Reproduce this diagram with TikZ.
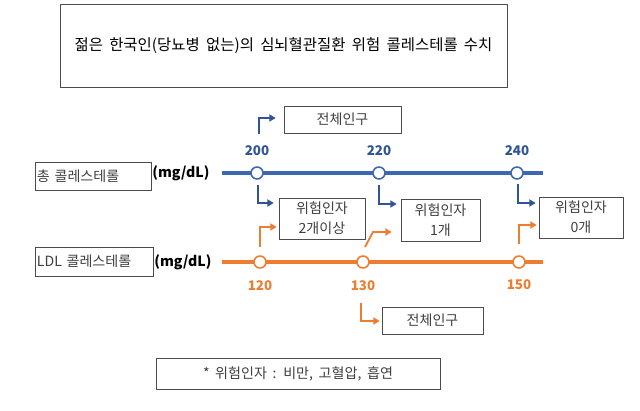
\documentclass[tikz,border=0pt]{standalone}
\usepackage{fontspec}
\setmainfont[WordSpace=1.8]{Noto Sans CJK KR}
\usetikzlibrary{arrows.meta, calc}
\definecolor{lineblue}{RGB}{59,104,176}
\definecolor{darkblue}{RGB}{47,85,151}
\definecolor{lineorange}{RGB}{237,125,49}
\definecolor{boxtext}{RGB}{64,64,64}
\tikzset{
x=0.025cm, y=-0.025cm, % one unit is one pixel of the reference, y runs downwards
box/.style={draw=black!70, fill=white, inner sep=0pt, text=boxtext, align=center,
font=\fontsize{10}{14}\selectfont}, % every text box
scale line/.style={line width=2.4pt}, % the two value scales
dot/.style={circle, fill=white, line width=1.1pt, minimum size=0.3cm, inner sep=0pt}, % marks on a scale
value/.style={font=\bfseries\fontsize{9.5}{11}\selectfont}, % numbers at the marks
unit/.style={font=\bfseries\fontsize{10}{12}\selectfont}, % (mg/dL)
bend arrow/.style={line width=1.3pt, -{Triangle[length=4.5pt, width=5pt]}}, % the small bent arrows
}

\begin{document}
\begin{tikzpicture}
    \useasboundingbox (0,0) rectangle (640,411);

    \node[box, text=black, minimum width=11.175cm, minimum height=2.075cm,
        font=\fontsize{11}{12}\selectfont] (title) at (283.5,45.5)
        {젊은 한국인(당뇨병 없는)의 심뇌혈관질환 위험 콜레스테롤 수치};

    %names of the scales
    \node[box, minimum width=2.9cm, minimum height=0.7cm, text width=2.8cm,
        align=left] (total) at (93,176) {총 콜레스테롤};
    \node[box, minimum width=2.95cm, minimum height=0.725cm, text width=2.85cm,
        align=left] (ldl) at (94,261.5) {LDL 콜레스테롤};
    \node[unit] (unit total) at (181,173) {(mg/dL)};
    \node[unit] (unit ldl) at (183,262) {(mg/dL)};

    %total cholesterol scale
    \coordinate (total start) at (222,173);
    \coordinate (total end) at (543,173);
    \draw[scale line, lineblue] (total start) -- (total end);
    \node[dot, draw=lineblue] (t200) at (257,173) {};
    \node[dot, draw=lineblue] (t220) at (379,173) {};
    \node[dot, draw=lineblue] (t240) at (517,173) {};
    \node[value, text=darkblue] (v200) at (257,151) {200};
    \node[value, text=darkblue] (v220) at (379,151) {220};
    \node[value, text=darkblue] (v240) at (517,151) {240};

    %LDL cholesterol scale
    \coordinate (ldl start) at (222,262);
    \coordinate (ldl end) at (543,262);
    \draw[scale line, lineorange] (ldl start) -- (ldl end);
    \node[dot, draw=lineorange] (l120) at (260,262) {};
    \node[dot, draw=lineorange] (l130) at (363,262) {};
    \node[dot, draw=lineorange] (l150) at (519,262) {};
    \node[value, text=lineorange] (v120) at (260,286) {120};
    \node[value, text=lineorange] (v130) at (363,286) {130};
    \node[value, text=lineorange] (v150) at (519,285) {150};

    %groups
    \node[box, minimum width=2.925cm, minimum height=0.675cm] (all top) at (342.5,119.5) {전체인구};
    \node[box, minimum width=2.15cm, minimum height=1.025cm] (risk two) at (322,218.5) {위험인자\\2개이상};
    \node[box, minimum width=1.975cm, minimum height=1.05cm] (risk one) at (440.5,220) {위험인자\\1개};
    \node[box, minimum width=2.1cm, minimum height=1.025cm] (risk none) at (581,217.5) {위험인자\\0개};
    \node[box, minimum width=2.525cm, minimum height=0.675cm] (all bottom) at (432.5,320.5) {전체인구};
    \node[box, minimum width=7.1cm, minimum height=0.775cm] (note) at (298,373.5)
        {* 위험인자 : 비만, 고혈압, 흡연};

    %blue arrows
    \draw[bend arrow, darkblue] ($(t200)+(2,-39)$) |- ($(all top.west)+(-8,-1.5)$);
    \draw[bend arrow, darkblue] ($(t200)+(1,12)$) |- ($(risk two.west)+(-5,-15.5)$);
    \draw[bend arrow, darkblue] ($(t220)+(0,12)$) |- ($(risk one.west)+(-4,-16)$);
    \draw[bend arrow, darkblue] ($(t240)+(1,11)$) |- ($(risk none.west)+(-3,-14.5)$);

    %orange arrows
    \draw[bend arrow, lineorange] ($(l120)+(0,-15)$) |- ($(risk two.west)+(-2,8.5)$);
    \draw[bend arrow, lineorange] ($(l130)+(2,-15)$) -- ($(l130)+(10,-30)$)
        -- ($(risk one.west)+(-9,12)$);
    \draw[bend arrow, lineorange] ($(l150)+(0,-18)$) |- ($(risk none.west)+(-2,7.5)$);
    \draw[bend arrow, lineorange] ($(l130)+(-2,41)$) |- ($(all bottom.west)+(-2,0.5)$);

\end{tikzpicture}
\end{document}
